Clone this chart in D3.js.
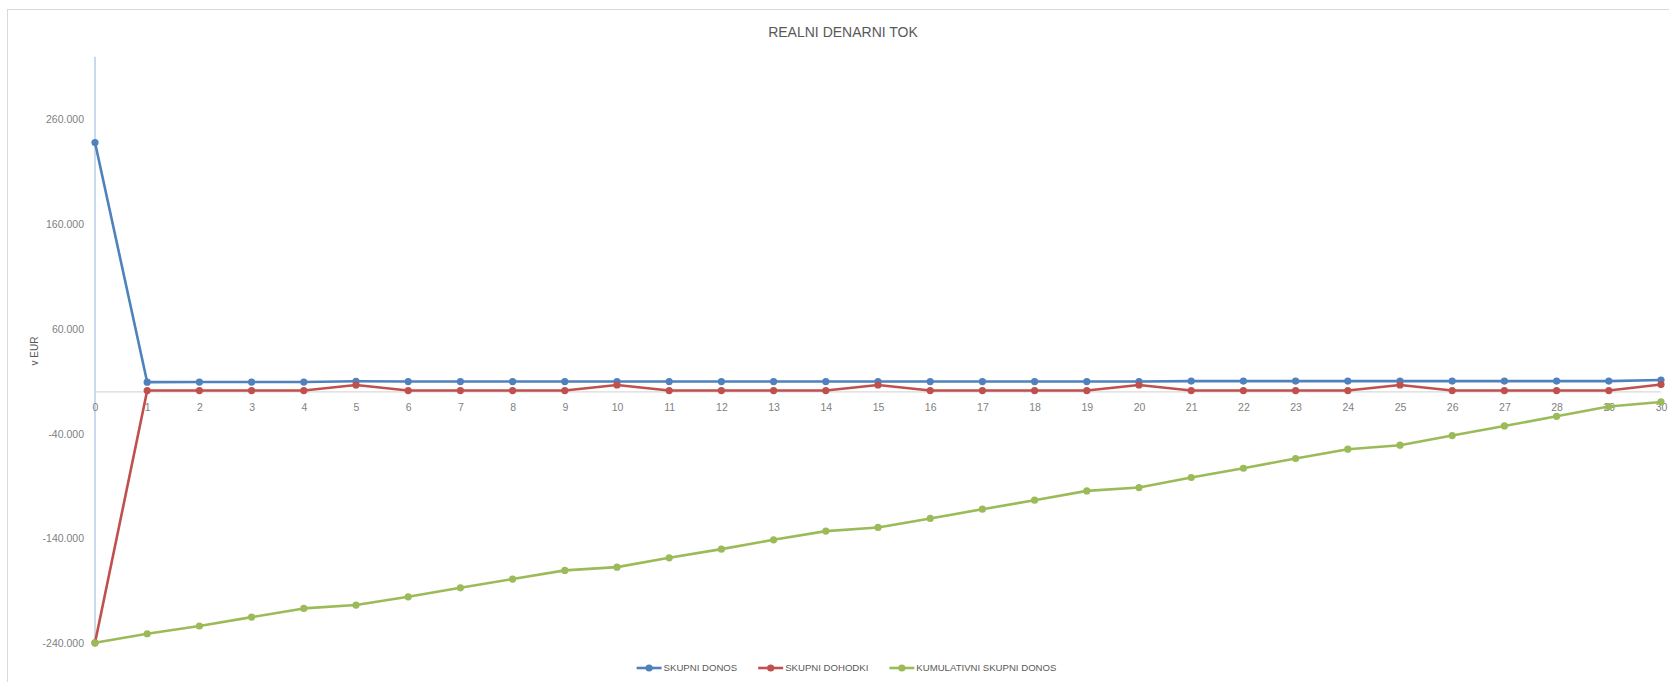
<!DOCTYPE html>
<html>
<head>
<meta charset="utf-8">
<script src="https://cdn.jsdelivr.net/npm/d3@7"></script>
<style>
  html, body { margin: 0; padding: 0; background: #ffffff; }
  svg { display: block; font-family: "Liberation Sans", Arial, sans-serif; }
</style>
</head>
<body>
<svg id="chart" width="1669" height="682"></svg>
<script>
// Years of the project (category axis)
const years = [0, 1, 2, 3, 4, 5, 6, 7, 8, 9, 10, 11, 12, 13, 14, 15, 16, 17, 18, 19, 20,
               21, 22, 23, 24, 25, 26, 27, 28, 29, 30];

// SKUPNI DONOS
const skupniDonos = [238000, 9300, 9400, 9400, 9400, 10100, 9900, 9900, 9900, 9900, 9900,
                     9900, 9900, 9900, 9900, 9900, 9900, 9900, 9900, 9900, 9900,
                     10300, 10300, 10300, 10300, 10300, 10300, 10300, 10300, 10300, 11300];

// SKUPNI DOHODKI
const skupniDohodki = [-239500, 1300, 1300, 1300, 1300, 6600, 1300, 1300, 1300, 1300, 6600,
                       1300, 1300, 1300, 1300, 6600, 1300, 1300, 1300, 1300, 6600,
                       1300, 1300, 1300, 1300, 6600, 1300, 1300, 1300, 1300, 7000];

// KUMULATIVNI SKUPNI DONOS
const kumulativniDonos = [-239500, -230900, -223500, -215000, -206700, -203500, -195600, -187000,
                          -178700, -170400, -167300, -158400, -150100, -141200, -132900, -129400,
                          -120800, -112000, -103400, -94500, -91300, -81700, -72900, -63600,
                          -54700, -50900, -41700, -32500, -23300, -14000, -9600];

// Value axis ticks
const yTicks = [-240000, -140000, -40000, 60000, 160000, 260000];

const seriesNames = ["SKUPNI DONOS", "SKUPNI DOHODKI", "KUMULATIVNI SKUPNI DONOS"];
const seriesColors = ["#4f81bd", "#c0504d", "#9bbb59"];
const seriesValues = [skupniDonos, skupniDohodki, kumulativniDonos];

const svg = d3.select("#chart");
const W = 1669, H = 682;

// Outer chart frame
svg.append("rect")
  .attr("x", 7.5).attr("y", 9.5)
  .attr("width", W + 20).attr("height", H + 20)
  .attr("fill", "#ffffff")
  .attr("stroke", "#d9d9d9")
  .attr("stroke-width", 1);

const plot = { left: 95, right: 1661, top: 56.7, bottom: 643.3 };

const x = d3.scalePoint()
  .domain(years)
  .range([plot.left, plot.right])
  .padding(0);

const y = d3.scaleLinear()
  .domain([-240000, 320000])
  .range([plot.bottom, plot.top]);

const loc = d3.formatLocale({ decimal: ",", thousands: ".", grouping: [3], currency: ["", " €"], minus: "-" });
const fmt = loc.format(",d");

// Title
svg.append("text")
  .attr("x", 843).attr("y", 37)
  .attr("text-anchor", "middle")
  .attr("font-size", 14)
  .attr("fill", "#595959")
  .text("REALNI DENARNI TOK");

// Horizontal axis line at zero
svg.append("line")
  .attr("x1", plot.left).attr("x2", plot.right)
  .attr("y1", y(0)).attr("y2", y(0))
  .attr("stroke", "#d9d9d9")
  .attr("stroke-width", 1.2);

// Vertical axis line
svg.append("line")
  .attr("x1", plot.left).attr("x2", plot.left)
  .attr("y1", plot.top).attr("y2", plot.bottom)
  .attr("stroke", "#b9cde5")
  .attr("stroke-width", 1.5);

// Value axis labels
const yAxis = svg.append("g")
  .attr("transform", `translate(${plot.left},0)`)
  .call(d3.axisLeft(y).tickValues(yTicks).tickSize(0).tickPadding(11).tickFormat(fmt));
yAxis.select(".domain").remove();
yAxis.selectAll("text")
  .attr("font-size", 10.5)
  .attr("font-family", "'Liberation Sans', Arial, sans-serif")
  .attr("fill", "#7f7f7f");

// Category axis labels
const xAxis = svg.append("g")
  .attr("transform", `translate(0,${y(0)})`)
  .call(d3.axisBottom(x).tickSize(0).tickPadding(11.3));
xAxis.select(".domain").remove();
xAxis.selectAll("text")
  .attr("font-size", 10.5)
  .attr("font-family", "'Liberation Sans', Arial, sans-serif")
  .attr("fill", "#7f7f7f");

// Value axis title
svg.append("text")
  .attr("transform", "translate(38,351) rotate(-90)")
  .attr("text-anchor", "middle")
  .attr("font-size", 10)
  .attr("fill", "#595959")
  .text("v EUR");

// Series lines and markers
const line = d3.line()
  .x((d, i) => x(years[i]))
  .y(d => y(d));

seriesValues.forEach((vals, s) => {
  const g = svg.append("g");
  g.append("path")
    .datum(vals)
    .attr("d", line)
    .attr("fill", "none")
    .attr("stroke", seriesColors[s])
    .attr("stroke-width", 2.6)
    .attr("stroke-linejoin", "round");
  g.selectAll("circle")
    .data(vals)
    .join("circle")
    .attr("cx", (d, i) => x(years[i]))
    .attr("cy", d => y(d))
    .attr("r", 3.6)
    .attr("fill", seriesColors[s]);
});

// Legend
const legend = svg.append("g");
const items = legend.selectAll("g.item")
  .data(seriesNames)
  .join("g")
  .attr("class", "item");
items.append("line")
  .attr("x1", 0).attr("x2", 25)
  .attr("y1", 0).attr("y2", 0)
  .attr("stroke", (d, i) => seriesColors[i])
  .attr("stroke-width", 2.6);
items.append("circle")
  .attr("cx", 12.5).attr("cy", 0).attr("r", 3.6)
  .attr("fill", (d, i) => seriesColors[i]);
items.append("text")
  .attr("x", 27).attr("y", 3.4)
  .attr("font-size", 9.6)
  .attr("fill", "#595959")
  .text(d => d);

let cursor = 0;
const offsets = [];
items.each(function () {
  offsets.push(cursor);
  const w = 27 + d3.select(this).select("text").node().getComputedTextLength();
  cursor += w + 21;
});
const total = cursor - 21;
const legendLeft = 846.5 - total / 2;
items.attr("transform", (d, i) => `translate(${legendLeft + offsets[i]},668)`);
</script>
</body>
</html>
